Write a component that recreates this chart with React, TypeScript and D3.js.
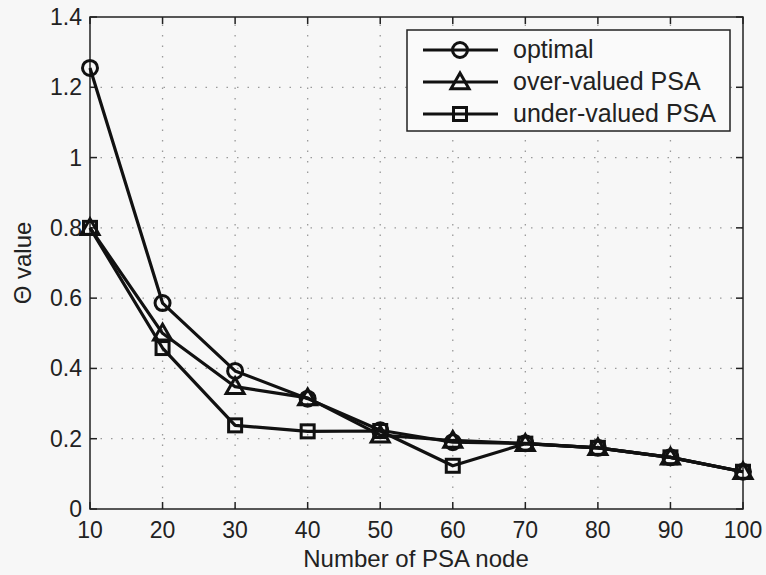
import React, { useEffect, useRef } from "react";
import * as d3 from "d3";

const nodes = [10, 20, 30, 40, 50, 60, 70, 80, 90, 100];
const optimal = [1.255, 0.586, 0.393, 0.314, 0.224, 0.19, 0.187, 0.174, 0.147, 0.106];
const overValued = [0.8, 0.5, 0.348, 0.316, 0.21, 0.195, 0.186, 0.174, 0.147, 0.106];
const underValued = [0.8, 0.458, 0.238, 0.221, 0.222, 0.123, 0.186, 0.174, 0.147, 0.106];
const yTicks = [0, 0.2, 0.4, 0.6, 0.8, 1, 1.2, 1.4];
const seriesNames = ["optimal", "over-valued PSA", "under-valued PSA"];
const markers = ["circle", "triangle", "square"];

const W = 766;
const H = 575;
const m = { left: 90, right: 23, top: 17, bottom: 66 };
const FONT = "'Liberation Sans', Arial, sans-serif";

const drawMarker = (g, kind, x, y) => {
    if (kind === "circle") {
        g.append("circle").attr("cx", x).attr("cy", y).attr("r", 7.5)
            .attr("fill", "none").attr("stroke", "#111").attr("stroke-width", 3);
    } else if (kind === "triangle") {
        const s = 9;
        g.append("path")
            .attr("d", `M${x},${y - s} L${x + s},${y + s * 0.75} L${x - s},${y + s * 0.75} Z`)
            .attr("fill", "none").attr("stroke", "#111").attr("stroke-width", 3);
    } else {
        const s = 6.5;
        g.append("rect").attr("x", x - s).attr("y", y - s).attr("width", 2 * s).attr("height", 2 * s)
            .attr("fill", "none").attr("stroke", "#111").attr("stroke-width", 3);
    }
};

const App = () => {
    const svgRef = useRef(null);

    useEffect(() => {
        const svg = d3.select(svgRef.current);
        svg.selectAll("*").remove();

        svg.append("rect").attr("width", W).attr("height", H).attr("fill", "#f7f7f7");

        const x = d3.scaleLinear().domain([10, 100]).range([m.left, W - m.right]);
        const y = d3.scaleLinear().domain([0, 1.4]).range([H - m.bottom, m.top]);
        const x0 = m.left, x1 = W - m.right, y0 = H - m.bottom, y1 = m.top;

        // grid
        const grid = svg.append("g").attr("stroke", "#9a9a9a").attr("stroke-width", 1.3)
            .attr("stroke-dasharray", "1.5,9");
        nodes.slice(1, -1).forEach(v => {
            grid.append("line").attr("x1", x(v)).attr("x2", x(v)).attr("y1", y0).attr("y2", y1);
        });
        yTicks.slice(1, -1).forEach(v => {
            grid.append("line").attr("x1", x0).attr("x2", x1).attr("y1", y(v)).attr("y2", y(v));
        });

        // box + ticks
        svg.append("rect").attr("x", x0).attr("y", y1).attr("width", x1 - x0).attr("height", y0 - y1)
            .attr("fill", "none").attr("stroke", "#222").attr("stroke-width", 1.5);
        const ticks = svg.append("g").attr("stroke", "#222").attr("stroke-width", 1.5);
        nodes.forEach(v => {
            ticks.append("line").attr("x1", x(v)).attr("x2", x(v)).attr("y1", y0).attr("y2", y0 - 7);
            ticks.append("line").attr("x1", x(v)).attr("x2", x(v)).attr("y1", y1).attr("y2", y1 + 7);
        });
        yTicks.forEach(v => {
            ticks.append("line").attr("x1", x0).attr("x2", x0 + 7).attr("y1", y(v)).attr("y2", y(v));
            ticks.append("line").attr("x1", x1).attr("x2", x1 - 7).attr("y1", y(v)).attr("y2", y(v));
        });

        // tick labels
        const lab = svg.append("g").attr("font-family", FONT).attr("font-size", 23).attr("fill", "#222");
        nodes.forEach(v => {
            lab.append("text").attr("x", x(v)).attr("y", y0 + 29).attr("text-anchor", "middle").text(v);
        });
        yTicks.forEach(v => {
            lab.append("text").attr("x", x0 - 8).attr("y", y(v) + 8).attr("text-anchor", "end").text(String(v));
        });
        lab.append("text").attr("x", 416).attr("y", 567).attr("text-anchor", "middle")
            .attr("font-size", 24).text("Number of PSA node");
        lab.append("text").attr("transform", `translate(31,${(y0 + y1) / 2}) rotate(-90)`)
            .attr("text-anchor", "middle").attr("font-size", 24).text("Θ value");

        // series
        const all = [optimal, overValued, underValued];
        const line = d3.line().x((d, i) => x(nodes[i])).y(d => y(d));
        [2, 1, 0].forEach(k => {
            const g = svg.append("g");
            g.append("path").attr("d", line(all[k])).attr("fill", "none")
                .attr("stroke", "#111").attr("stroke-width", 3.2).attr("stroke-linejoin", "round");
            all[k].forEach((v, i) => drawMarker(g, markers[k], x(nodes[i]), y(v)));
        });

        // legend
        const lg = svg.append("g");
        lg.append("rect").attr("x", 407).attr("y", 30).attr("width", 323).attr("height", 101)
            .attr("fill", "#fafafa").attr("stroke", "#222").attr("stroke-width", 1.5);
        seriesNames.forEach((name, k) => {
            const ly = 50 + k * 32;
            lg.append("line").attr("x1", 423).attr("x2", 498).attr("y1", ly).attr("y2", ly)
                .attr("stroke", "#111").attr("stroke-width", 3.2);
            drawMarker(lg, markers[k], 460, ly);
            lg.append("text").attr("x", 513).attr("y", ly + 8).attr("font-family", FONT)
                .attr("font-size", 25).attr("fill", "#222").text(name);
        });
    }, []);

    return (
        <svg ref={svgRef} width={W} height={H}
            style={{ position: "absolute", left: 0, top: 0, display: "block" }} />
    );
};

export default App;
